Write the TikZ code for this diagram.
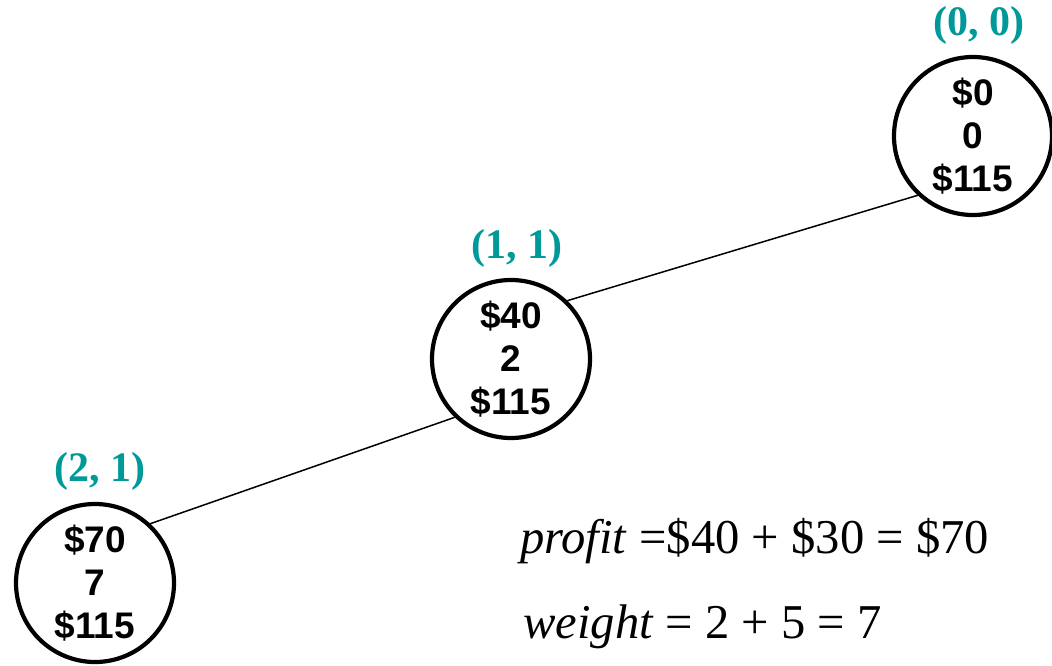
\documentclass[tikz,border=0pt]{standalone}
\usepackage{fontspec}
\setmainfont{Liberation Serif}
\newfontfamily\arialf{Liberation Sans}
\definecolor{tealc}{RGB}{0,153,153}
\begin{document}
\begin{tikzpicture}[x=1pt,y=-1pt,
  state/.style={circle,draw=black,line width=4.2pt,minimum size=158pt,inner sep=0pt,
    align=center,font=\arialf\bfseries\fontsize{37}{43}\selectfont},
  lab/.style={text=tealc,font=\bfseries\fontsize{42}{46}\selectfont,inner sep=0pt},
  eq/.style={anchor=base west,inner sep=0pt,font=\fontsize{48.6}{52}\selectfont},
  edge/.style={line width=1.5pt}]
\useasboundingbox (0,0) rectangle (1052,665);
\node[state] (c) at (973,136) {\$0\\0\\\$115};
\node[state] (b) at (511,359) {\$40\\2\\\$115};
\node[state] (a) at (95,583) {\$70\\7\\\$115};
\node[lab] (lc) at (979,25) {(0, 0)};
\node[lab] (lb) at (517,248) {(1, 1)};
\node[lab] (la) at (100,471) {(2, 1)};
\draw[edge] (a.47) -- (b.226);
\draw[edge] (b.46) -- (c.227);
\node[eq] (e1) at (520,553) {\textit{profit} =\$40 + \$30 = \$70};
\node[eq] (e2) at (523,638) {\textit{weight} = 2 + 5 = 7};
\end{tikzpicture}
\end{document}
